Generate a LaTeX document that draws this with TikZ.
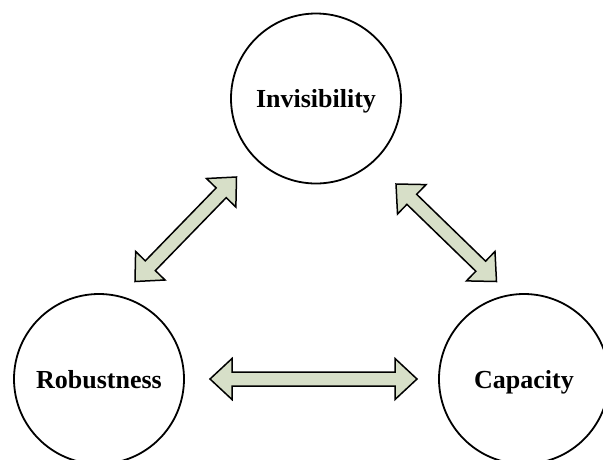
\documentclass[tikz,border=0pt]{standalone}
\usepackage{fontspec}
\setmainfont{Liberation Serif}
\usetikzlibrary{calc}

\definecolor{arrowfill}{HTML}{D7DFC8}

\tikzset{
  idea/.style={circle, draw=black, line width=1.8pt, minimum size=170pt,
    inner sep=0pt, text height=18pt, text depth=0pt,
    font=\fontsize{26}{30}\selectfont\bfseries},
  blockarrow/.style={draw=black, line width=1.5pt, fill=arrowfill,
    line join=miter},
}

% Double-headed block arrow from tip #1 to tip #2
% (head length 22pt, head half-width 20.5pt, shaft half-width 7pt)
\newcommand\fatarrow[2]{%
  \draw[blockarrow] let \p1=($(#2)-(#1)$), \n1={atan2(\y1,\x1)} in
    (#1)
    -- ($(#1)+(\n1:22pt)+(\n1+90:20.5pt)$)
    -- ($(#1)+(\n1:22pt)+(\n1+90:7pt)$)
    -- ($(#2)+(\n1:-22pt)+(\n1+90:7pt)$)
    -- ($(#2)+(\n1:-22pt)+(\n1+90:20.5pt)$)
    -- (#2)
    -- ($(#2)+(\n1:-22pt)+(\n1-90:20.5pt)$)
    -- ($(#2)+(\n1:-22pt)+(\n1-90:7pt)$)
    -- ($(#1)+(\n1:22pt)+(\n1-90:7pt)$)
    -- ($(#1)+(\n1:22pt)+(\n1-90:20.5pt)$)
    -- cycle;%
}

\begin{document}
\begin{tikzpicture}[x=1pt,y=-1pt]
  \useasboundingbox (0,0) rectangle (603,459);
  \clip (0,0) rectangle (603,459);

  % the three properties
  \node[idea] (inv) at (316,98.5) {Invisibility};
  \node[idea] (rob) at (99,379) {Robustness};
  \node[idea] (cap) at (524,379) {Capacity};

  % arrow tips
  \coordinate (ri) at (135,281.5);
  \coordinate (ir) at (236.5,177);
  \coordinate (ic) at (396,184);
  \coordinate (ci) at (496.5,281.5);
  \coordinate (rc) at (210,379);
  \coordinate (cr) at (417,379);

  % trade-offs between them
  \fatarrow{ri}{ir}
  \fatarrow{ic}{ci}
  \fatarrow{rc}{cr}
\end{tikzpicture}
\end{document}
